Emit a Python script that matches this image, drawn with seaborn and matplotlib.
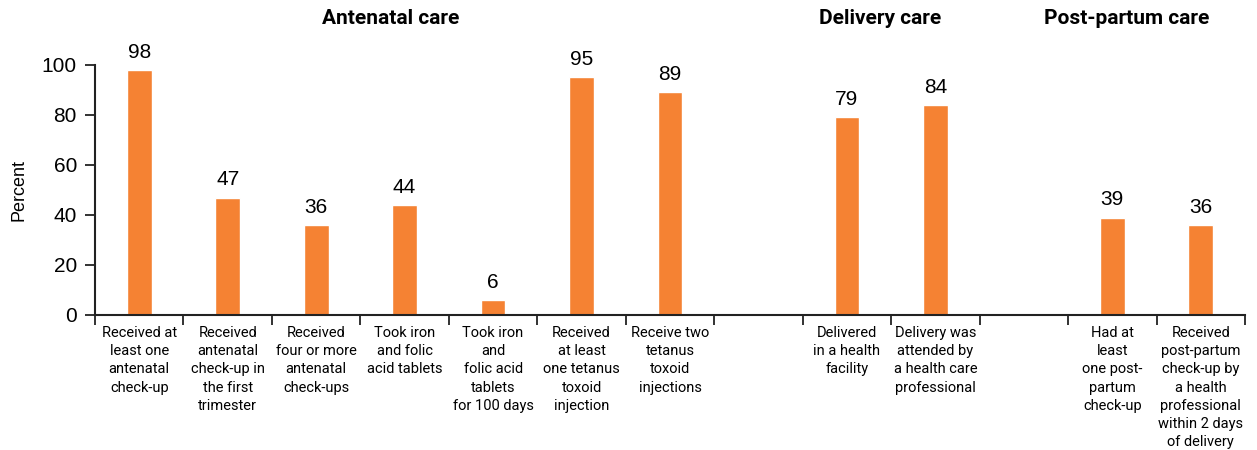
import numpy as np
import pandas as pd
import matplotlib
matplotlib.use("Agg")
import matplotlib.pyplot as plt
import matplotlib.transforms as mtrans
import seaborn as sns

# ---- data ----
categories = [
    "Received at\nleast one\nantenatal\ncheck-up",
    "Received\nantenatal\ncheck-up in\nthe first\ntrimester",
    "Received\nfour or more\nantenatal\ncheck-ups",
    "Took iron\nand folic\nacid tablets",
    "Took iron\nand\nfolic acid\ntablets\nfor 100 days",
    "Received\nat least\none tetanus\ntoxoid\ninjection",
    "Receive two\ntetanus\ntoxoid\ninjections",
    " ",
    "Delivered\nin a health\nfacility",
    "Delivery was\nattended by\na health care\nprofessional",
    "  ",
    "Had at\nleast\none post-\npartum\ncheck-up",
    "Received\npost-partum\ncheck-up by\na health\nprofessional\nwithin 2 days\nof delivery",
]
values = [98, 47, 36, 44, 6, 95, 89, np.nan, 79, 84, np.nan, 39, 36]
groups = ["Antenatal care", "Delivery care", "Post-partum care"]
group_pos = [2.84, 8.38, 11.16]
yticks = [0, 20, 40, 60, 80, 100]

sns.set_style("white")
plt.rcParams['font.family'] = ['Liberation Sans', 'DejaVu Sans']
plt.rcParams['text.color'] = 'black'
plt.rcParams['axes.labelcolor'] = 'black'
plt.rcParams['xtick.color'] = 'black'
plt.rcParams['ytick.color'] = 'black'

df = pd.DataFrame({"cat": categories, "val": values})
fig = plt.figure(figsize=(12.57, 4.5), dpi=100)
ax = fig.add_axes([95/1257, 1-315/450, 1150/1257, 250/450])

sns.barplot(data=df, x="cat", y="val", order=categories, color="#F58233",
            saturation=1, width=0.28, ax=ax)

ax.set_ylim(0, 100)
ax.set_xlim(-0.5, len(categories) - 0.5)
ax.set_yticks(yticks)
ax.set_yticklabels([str(t) for t in yticks], fontsize=15)
ax.set_ylabel("Percent", fontsize=13, labelpad=10)
ax.set_xlabel("")

# ticks at boundaries, labels at centers
ax.set_xticks(np.arange(-0.5, len(categories)), labels=[""] * (len(categories) + 1))
ax.set_xticks(np.arange(len(categories)), labels=categories, minor=True)
ax.tick_params(axis="x", which="major", bottom=True, direction="out", length=7,
               width=1.3, color="#222222")
ax.tick_params(axis="x", which="minor", bottom=True, length=0, pad=8)
for lab in ax.get_xticklabels(minor=True):
    lab.set_family(['Roboto', 'DejaVu Sans'])
    lab.set_fontsize(10.5)
    lab.set_linespacing(1.38)
    lab.set_verticalalignment("top")
    lab.set_color("black")
ax.tick_params(axis="y", left=True, direction="out", length=7, width=1.3,
               color="#222222", pad=6)

for s in ["top", "right"]:
    ax.spines[s].set_visible(False)
for s in ["left", "bottom"]:
    ax.spines[s].set_color("#222222")
    ax.spines[s].set_linewidth(1.5)

for i, v in enumerate(values):
    if not np.isnan(v):
        ax.annotate(f"{v:.0f}", (i, v), xytext=(0, 6), textcoords="offset points",
                    ha="center", va="bottom", fontsize=15, annotation_clip=False)

blend = mtrans.blended_transform_factory(ax.transData, fig.transFigure)
for g, gx in zip(groups, group_pos):
    ax.text(gx, 1 - 18/450, g, transform=blend,
            ha="center", va="center", fontsize=15, fontweight="bold",
            family=['Roboto', 'DejaVu Sans'])

fig.savefig("out.png", dpi=100)
